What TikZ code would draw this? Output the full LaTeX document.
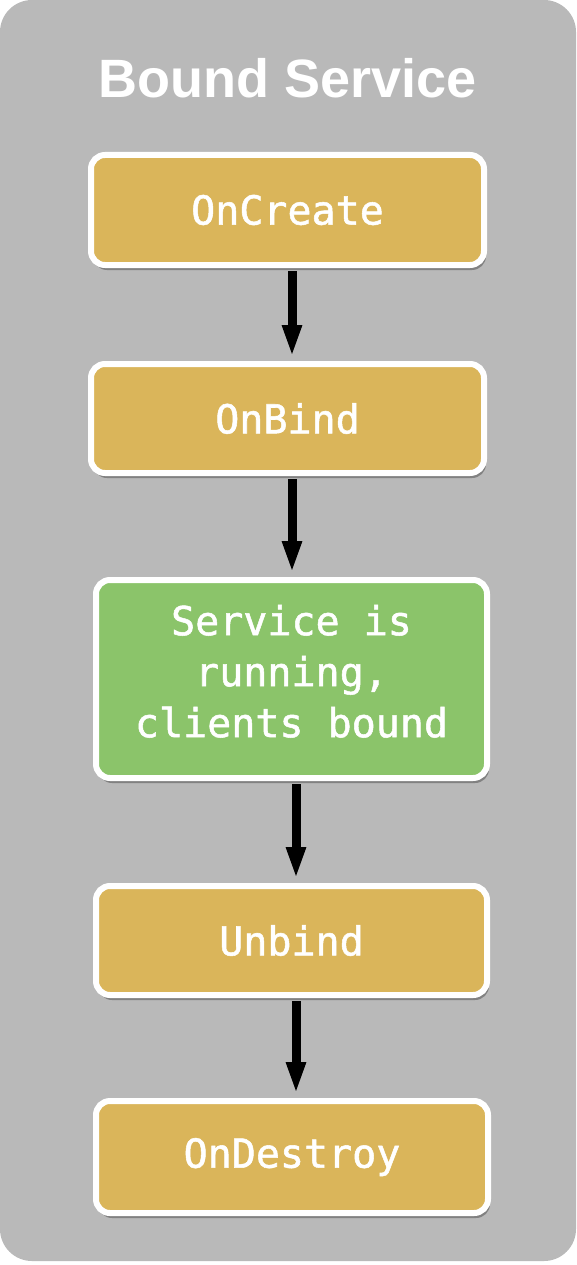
\documentclass[tikz,border=0pt]{standalone}
\usepackage{fontspec}
\setmainfont{Liberation Sans}
\newfontfamily\boxmono[FakeBold=1.3]{DejaVu Sans Mono}
\usetikzlibrary{arrows.meta,shadows}
\definecolor{panelgray}{HTML}{B9B9B9}
\definecolor{boxyellow}{HTML}{DAB55A}
\definecolor{boxgreen}{HTML}{8BC46A}
\begin{document}
\begin{tikzpicture}[x=1pt,y=-1pt,
  stepbox/.style={draw=white, line width=6pt, rounded corners=14pt,
    minimum width=393pt, minimum height=110pt, inner sep=0pt,
    text=white, font=\boxmono\fontsize{40}{51}\selectfont, align=center,
    drop shadow={shadow xshift=2pt, shadow yshift=-5pt, opacity=0.3, fill=black}},
  yellowbox/.style={stepbox, fill=boxyellow},
  greenbox/.style={stepbox, fill=boxgreen},
  flow/.style={line width=9pt, -{Triangle[width=18pt,length=32pt]},
    shorten <=3pt, shorten >=4pt}]
\useasboundingbox (0,0) rectangle (576,1265);
\fill[panelgray, rounded corners=32pt] (0,0) rectangle (576,1261);
\node[text=white, font=\bfseries\fontsize{54}{60}\selectfont] (title) at (287.5,78) {Bound Service};
\node[yellowbox, minimum height=110pt] (create) at (287.5,210) {OnCreate};
\node[yellowbox, minimum height=109pt] (bind) at (287.5,418.5) {OnBind};
\node[greenbox, minimum width=391pt, minimum height=198pt] (run) at (291.5,679) {Service is\\running,\\clients bound\rule[-16pt]{0pt}{1pt}};
\node[yellowbox, minimum width=391pt, minimum height=109pt] (unbind) at (291.5,940.5) {Unbind};
\node[yellowbox, minimum width=392pt, minimum height=112pt] (destroy) at (292,1157) {OnDestroy};
\coordinate (ax1) at (292,0);
\coordinate (ax2) at (296,0);
\draw[flow] (create.south -| ax1) -- (bind.north -| ax1);
\draw[flow] (bind.south -| ax1) -- (run.north -| ax1);
\draw[flow] (run.south -| ax2) -- (unbind.north -| ax2);
\draw[flow] (unbind.south -| ax2) -- (destroy.north -| ax2);
\end{tikzpicture}
\end{document}
